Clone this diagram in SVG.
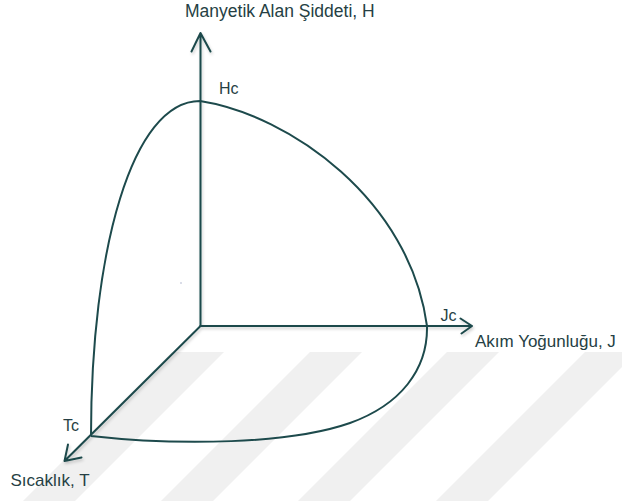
<svg xmlns="http://www.w3.org/2000/svg" width="622" height="501" viewBox="0 0 622 501">
<defs>
<style>
.ax{fill:none;stroke:#1d4a4c;stroke-width:2;stroke-linecap:round;stroke-linejoin:round}
.cv{fill:none;stroke:#1d4a4c;stroke-width:2}
.lb{font-family:"Liberation Sans",Arial,sans-serif;fill:#263f44}
.wm{fill:#f0f0f0}
</style>
<filter id="sh" x="-20%" y="-20%" width="140%" height="140%">
<feDropShadow dx="1" dy="2" stdDeviation="1.5" flood-color="#000" flood-opacity="0.2"/>
</filter>
</defs>
<rect width="622" height="501" fill="#fff"/>
<g id="watermark">
<polygon class="wm" points="172,352 224,352 75,501 23,501"/>
<polygon class="wm" points="310,352 362,352 213,501 161,501"/>
<polygon class="wm" points="447,352 499,352 350,501 298,501"/>
<polygon class="wm" points="585,352 637,352 488,501 436,501"/>
</g>
<g id="connectors">
<g filter="url(#sh)">
<path id="axis-H" class="ax" d="M200.5,326 V33 M191.5,51.5 L200.5,33 L210.5,51.5"/>
<path id="axis-J" class="ax" d="M200.5,326 H472 M460.5,318.5 L472,326 L461.5,333.5"/>
<path id="axis-T" class="ax" d="M200.5,326 L64.5,461 M68,444.5 L64.5,461 L81.5,457.5"/>
</g>
<path id="critical-surface" class="cv" d="M91,436 C91,250 132,101 200,101 C290,115 410,200 427,326 C428,370 400,405 350,423 C290,444 180,446 91,436"/>
</g>
<g id="label-H"><text class="lb" x="185" y="17" font-size="17.5">Manyetik Alan Şiddeti, H</text></g>
<g id="label-Hc"><text class="lb" x="219" y="94" font-size="16">Hc</text></g>
<g id="label-Jc"><text class="lb" x="440.5" y="321" font-size="16">Jc</text></g>
<g id="label-J"><text class="lb" x="475" y="347" font-size="17">Akım Yoğunluğu, J</text></g>
<g id="label-Tc"><text class="lb" x="63" y="431" font-size="16">Tc</text></g>
<g id="label-T"><text class="lb" x="10.5" y="486" font-size="17">Sıcaklık, T</text></g>
<circle cx="181" cy="283" r="0.7" fill="#9aa0c0"/>
</svg>
